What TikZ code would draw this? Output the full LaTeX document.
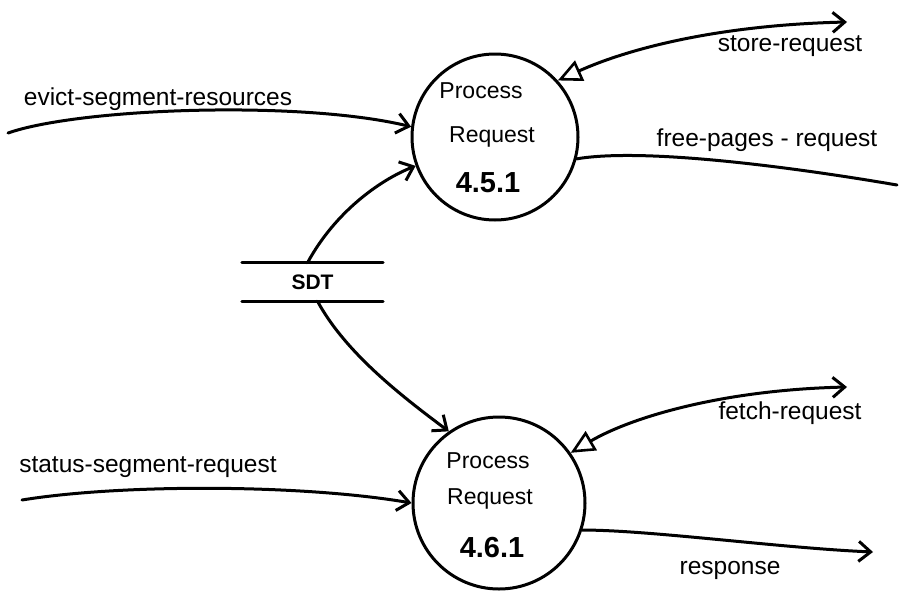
\documentclass[tikz,border=0pt]{standalone}
\usepackage{fontspec}
\setmainfont{Liberation Sans}
\usetikzlibrary{arrows.meta}
\tikzset{
  flow/.style={line width=3pt, line cap=round},
  proc/.style={circle, draw, line width=3pt, inner sep=0pt},
  lbl/.style={font=\fontsize{24.5}{28}\selectfont, inner sep=0pt},
  ptxt/.style={font=\fontsize{23}{27}\selectfont, inner sep=0pt},
  pnum/.style={font=\fontsize{29}{33}\selectfont\bfseries, inner sep=0pt},
  intip/.style={-{Straight Barb[length=12pt,width=20pt,line width=3pt]}},
  bothtip/.style={{Triangle[open,length=24pt,width=22pt,line width=2.6pt]}-{Straight Barb[length=12pt,width=20pt,line width=3pt]}}
}
\begin{document}
\begin{tikzpicture}[x=1pt,y=-1pt]
\useasboundingbox (0,0) rectangle (900,592);

% processes
\node[proc, minimum size=166pt] (c1) at (495,137) {};
\node[proc, minimum size=172pt] (c2) at (499,503) {};

\node[ptxt] (c1a) at (481,91) {Process};
\node[ptxt] (c1b) at (492,137) {Request};
\node[pnum] (c1c) at (488,183) {4.5.1};
\node[ptxt] (c2a) at (488,461) {Process};
\node[ptxt] (c2b) at (490,499) {Request};
\node[pnum] (c2c) at (492,548) {4.6.1};

% data store
\node[minimum width=141pt, minimum height=38pt, inner sep=0pt,
      font=\fontsize{21}{25}\selectfont\bfseries] (sdt) at (312.5,282) {SDT};
\draw[flow] (sdt.north west) -- (sdt.north east);
\draw[flow] (sdt.south west) -- (sdt.south east);

% free ends
\coordinate (ev) at (8,133);
\coordinate (st) at (22,500);
\coordinate (sr) at (847,22);
\coordinate (fp) at (897,185);
\coordinate (fr) at (847,387);
\coordinate (rs) at (873,552);

% flows
\draw[flow, intip] (ev) .. controls (80,108) and (300,100) .. (c1.173);
\draw[flow, intip] (st) .. controls (120,484) and (300,484) .. (c2.west);
\draw[flow, intip] ([xshift=-5pt]sdt.north) .. controls (335,212) and (380,180) .. (c1.200);
\draw[flow, intip] ([xshift=5pt]sdt.south) .. controls (345,352) and (400,395) .. (c2.125);
\draw[flow, bothtip] (c1.42) .. controls (630,48) and (720,25) .. (sr);
\draw[flow] (c1.-15) .. controls (640,148) and (780,165) .. (fp);
\draw[flow, bothtip] (c2.35) .. controls (630,418) and (720,390) .. (fr);
\draw[flow, intip] (c2.-18) .. controls (650,530) and (780,548) .. (rs);

% flow labels
\node[lbl] (lev) at (158,99) {evict-segment-resources};
\node[lbl] (lst) at (148,467) {status-segment-request};
\node[lbl] (lsr) at (790,46) {store-request};
\node[lbl] (lfp) at (767,140) {free-pages - request};
\node[lbl] (lfr) at (790,413) {fetch-request};
\node[lbl] (lrs) at (730,570) {response};
\end{tikzpicture}
\end{document}
